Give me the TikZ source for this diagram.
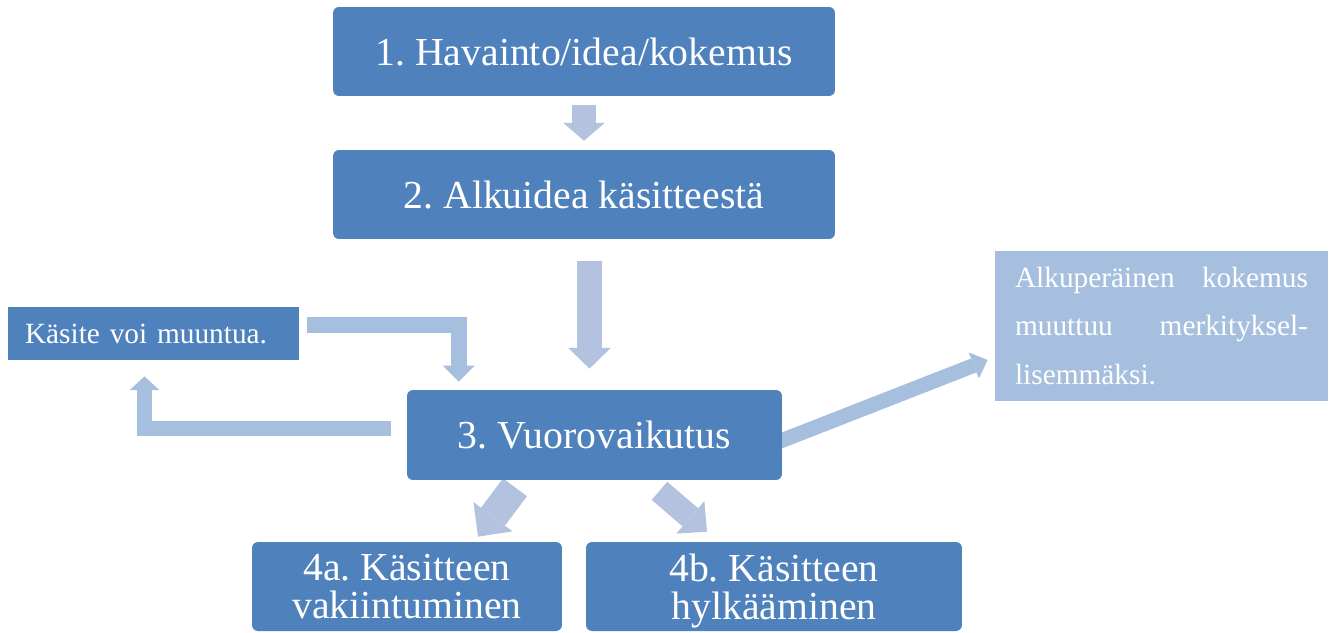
\documentclass[tikz,border=0pt]{standalone}
\usepackage{fontspec}
\setmainfont{Liberation Serif}
\usetikzlibrary{arrows.meta,calc}
\definecolor{boxblue}{RGB}{79,129,189}
\definecolor{arrowgray}{RGB}{179,194,222}
\definecolor{arrowlight}{RGB}{167,191,222}
\pgfdeclarelayer{background}
\pgfsetlayers{background,main}
\frenchspacing

\begin{document}
\begin{tikzpicture}[x=0.02cm,y=-0.02cm]
\tikzstyle{every node}=[shape=rectangle,inner sep=0pt,text=white];
\tikzstyle{bigbox}=[fill=boxblue,rounded corners=3.4pt,align=center,text depth=0pt,font=\fontsize{22.6}{21.5}\selectfont];
\tikzstyle{notebox}=[font=\fontsize{16.7}{27.5}\selectfont];
\tikzstyle{flow}=[draw=arrowgray,line join=miter];
\tikzstyle{sidearrow}=[draw=arrowlight,line join=miter];
\tikzset{blockhead/.style 2 args={-{Triangle[width=#1,length=#2,line width=0pt]}}}

\useasboundingbox (0,0) rectangle (1338,632);

\path (584,51.5) node[bigbox,minimum width=10.04cm,minimum height=1.78cm] (havainto) {1. Havainto/idea/kokemus};
\path (584,194.5) node[bigbox,minimum width=10.04cm,minimum height=1.78cm] (alkuidea) {2. Alkuidea käsitteestä};
\path (594.5,435) node[bigbox,minimum width=7.5cm,minimum height=1.8cm] (vuoro) {3. Vuorovaikutus};
\path (407,586.5) node[bigbox,minimum width=6.2cm,minimum height=1.78cm] (vakiin) {4a. Käsitteen\\vakiintuminen};
\path (774,586.5) node[bigbox,minimum width=7.52cm,minimum height=1.78cm] (hylk) {4b. Käsitteen\\hylkääminen};

\path (153.5,333.5) node[notebox,fill=boxblue,minimum width=5.82cm,minimum height=1.06cm,text width=5.14cm,align=left] (muuntua) {Käsite voi muuntua.};
\path (1161.5,326) node[notebox,fill=arrowlight,minimum width=6.66cm,minimum height=3.02cm,text width=5.86cm,align=justify] (kokemus) {Alkuperäinen kokemus\linebreak muuttuu merkityksel-\linebreak lisemmäksi.};

\begin{pgfonlayer}{background}
\draw[flow,line width=14.2pt,blockhead={23.8pt}{10.2pt},shorten <=5.1pt,shorten >=5.1pt] (havainto.south) -- (alkuidea.north);
\draw[flow,line width=14.2pt,blockhead={24.4pt}{11.9pt}] ($(alkuidea.south)+(5.5,22)$) -- ($(vuoro.north)+(-5,-21)$);
\draw[flow,line width=17pt,blockhead={27.8pt}{14.2pt}] ($(vuoro.south)+(-79.5,7)$) -- ($(vakiin.north)+(71,-5)$);
\draw[flow,line width=13.6pt,blockhead={24.4pt}{12.5pt}] ($(vuoro.south)+(65,10.5)$) -- ($(hylk.north)+(-67,-10)$);
%\draw[flow] (vuoro) -- (hylk);
\draw[sidearrow,line width=9.1pt,blockhead={18.1pt}{9.1pt}] ($(muuntua.east)+(8,-8.5)$) -| ($(vuoro.north west)+(52,-8)$);
\draw[sidearrow,line width=8.5pt,blockhead={17pt}{7.9pt}] ($(vuoro.west)+(-16,-6.5)$) -| ($(muuntua.south)+(-9,16)$);
\draw[sidearrow,line width=8.5pt,blockhead={15.9pt}{8.5pt}] ($(vuoro.east)+(-12,10)$) -- ($(kokemus.west)+(-7,34)$);
\end{pgfonlayer}
\end{tikzpicture}
\end{document}
